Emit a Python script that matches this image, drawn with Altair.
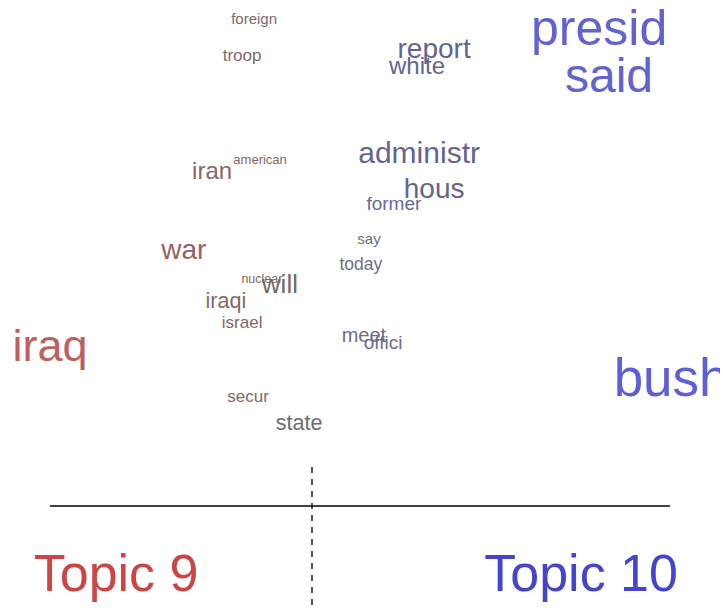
import altair as alt
import pandas as pd

# words of the topic-perspective plot
words = ["foreign", "troop", "report", "white", "presid", "said", "administr", "hous",
         "iran", "american", "former", "say", "today", "war", "nuclear", "will",
         "iraqi", "israel", "meet", "offici", "iraq", "bush", "secur", "state"]
# position along the Topic 9 (left) - Topic 10 (right) axis
diff = [-0.193, -0.233, 0.407, 0.350, 0.957, 0.990, 0.357, 0.407,
        -0.333, -0.173, 0.273, 0.190, 0.163, -0.427, -0.167, -0.107,
        -0.287, -0.233, 0.173, 0.237, -0.873, 1.197, -0.213, -0.043]
# random vertical placement
ypos = [0.982, 0.920, 0.930, 0.902, 0.963, 0.884, 0.757, 0.697,
        0.727, 0.747, 0.674, 0.615, 0.572, 0.595, 0.549, 0.539,
        0.510, 0.475, 0.454, 0.442, 0.435, 0.380, 0.352, 0.307]
# font size proportional to word frequency
sizes = [15, 17, 28, 24, 50, 48, 30, 28,
         24, 13, 19, 15, 17.5, 28, 12.5, 26,
         21.5, 17, 20, 19, 45, 53, 17, 21.5]
# colour blended between the two topics
colors = ["#806868", "#806868", "#646492", "#646492", "#6262d0", "#6262d0", "#646492", "#646492",
          "#8c6464", "#806868", "#6a6a96", "#6e6e80", "#6e6e80", "#966060", "#786a6a", "#706a6a",
          "#8a6666", "#826868", "#6c6c84", "#6c6c8c", "#c05e5e", "#5e5ed8", "#846868", "#6c6c6c"]

topics = ["Topic 9", "Topic 10"]
topic_x = [-0.653, 0.897]
topic_y = [0.055, 0.055]
topic_colors = ["#CC4444", "#4444CC"]

df = pd.DataFrame(dict(word=words, diff=diff, y=ypos, size=sizes, color=colors))
tdf = pd.DataFrame(dict(word=topics, diff=topic_x, y=topic_y, color=topic_colors))
hline = pd.DataFrame(dict(x=[-0.873], x2=[1.193], y=[0.17]))
vline = pd.DataFrame(dict(x=[0.0], y=[0.235], y2=[-0.02]))

xs = alt.Scale(domain=[-1.0133, 1.36], nice=False, zero=False)
ys = alt.Scale(domain=[0, 1], nice=False, zero=False)

text = alt.Chart(df).mark_text(font="Liberation Sans", align="center", baseline="middle").encode(
    x=alt.X("diff:Q", scale=xs, axis=None),
    y=alt.Y("y:Q", scale=ys, axis=None),
    text="word:N",
    size=alt.Size("size:Q", scale=None, legend=None),
    color=alt.Color("color:N", scale=None, legend=None),
)

labels = alt.Chart(tdf).mark_text(font="Liberation Sans", align="center", baseline="middle", fontSize=52).encode(
    x=alt.X("diff:Q", scale=xs, axis=None),
    y=alt.Y("y:Q", scale=ys, axis=None),
    text="word:N",
    color=alt.Color("color:N", scale=None, legend=None),
)

h = alt.Chart(hline).mark_rule(color="black", strokeWidth=1.5).encode(
    x=alt.X("x:Q", scale=xs, axis=None), x2="x2:Q", y=alt.Y("y:Q", scale=ys, axis=None))
v = alt.Chart(vline).mark_rule(color="black", strokeWidth=1.3, strokeDash=[6, 6], clip=False).encode(
    x=alt.X("x:Q", scale=xs, axis=None), y=alt.Y("y:Q", scale=ys, axis=None), y2="y2:Q")

chart = alt.layer(h, v, text, labels).properties(
    width=712, height=600, padding=0, autosize=alt.AutoSizeParams(type="none"), background="white"
).configure_view(stroke=None)

chart.save("out.html", embed_options={"renderer": "svg", "actions": False})
